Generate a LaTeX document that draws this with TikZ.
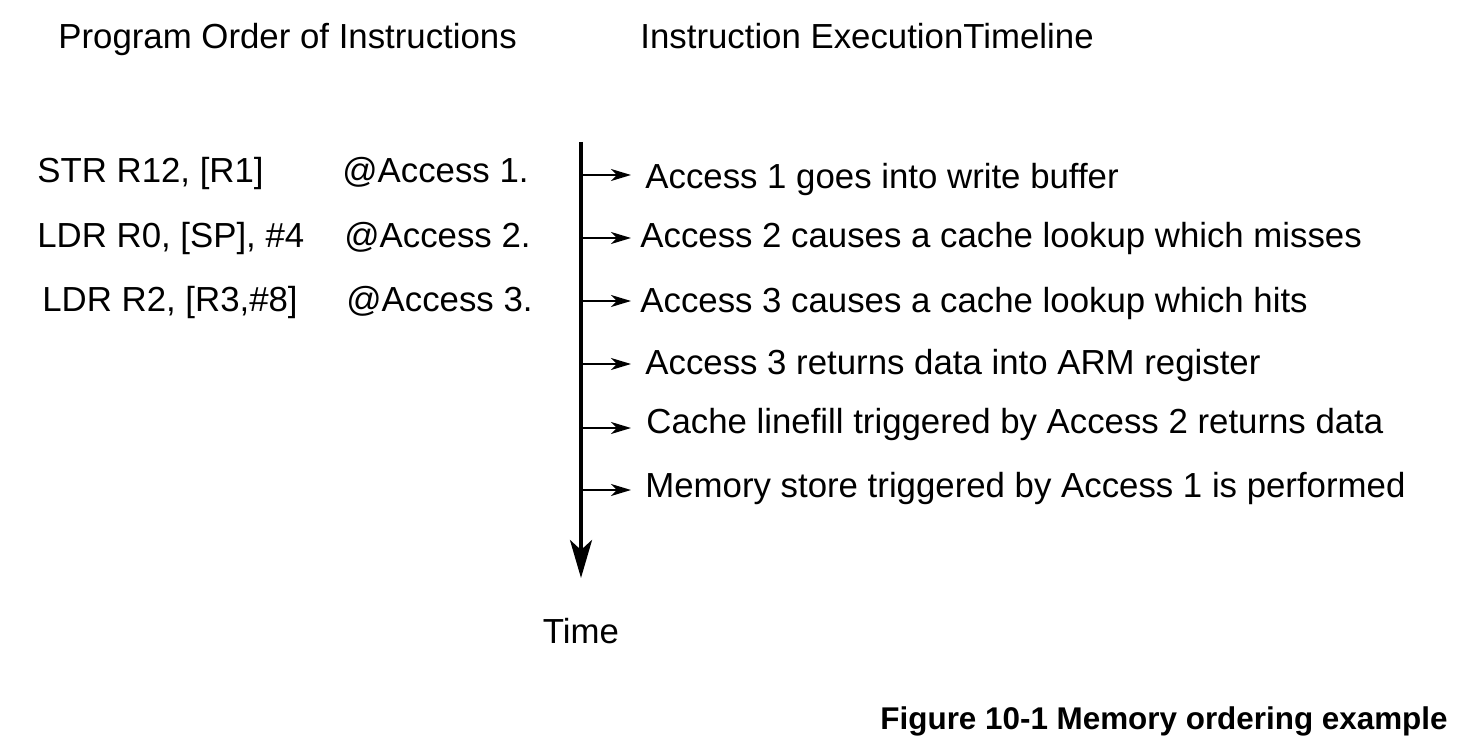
\documentclass[tikz,border=0pt]{standalone}
\usepackage{fontspec}
\setmainfont{Liberation Sans}
\usetikzlibrary{arrows.meta}
\tikzset{
  txt/.style={anchor=base west,inner sep=0pt,font=\fontsize{17.4}{20}\selectfont},
  tick/.style={line width=1pt,-{Stealth[length=10pt,width=6pt,inset=3pt]}},
  axis/.style={line width=2pt,-{Stealth[length=19pt,width=11pt,inset=5pt]}}
}
\begin{document}
\begin{tikzpicture}[x=0.5pt,y=-0.5pt]
\useasboundingbox (0,0) rectangle (1467,754);
% headings
\node[txt] (proghead) at (58,49) {Program Order of Instructions};
\node[txt] (timehead) at (640,49) {Instruction ExecutionTimeline};
% program order
\node[txt] (ins1) at (37,183) {STR R12, [R1]};
\node[txt] (com1) at (342,183) {@Access 1.};
\node[txt] (ins2) at (37,248) {LDR R0, [SP], \#4};
\node[txt] (com2) at (344,248) {@Access 2.};
\node[txt] (ins3) at (42,312) {LDR R2, [R3,\#8]};
\node[txt] (com3) at (346,312) {@Access 3.};
% timeline
\coordinate (T0) at (581,142);
\coordinate (T1) at (581,578);
\draw[axis] (T0) -- (T1);
\node[txt,anchor=base] (time) at (581,643) {Time};
\coordinate (e1) at (631,175);
\coordinate (e2) at (631,238);
\coordinate (e3) at (631,301);
\coordinate (e4) at (631,364);
\coordinate (e5) at (631,428);
\coordinate (e6) at (631,490);
\draw[tick] (e1 -| T0) -- (e1);
\draw[tick] (e2 -| T0) -- (e2);
\draw[tick] (e3 -| T0) -- (e3);
\draw[tick] (e4 -| T0) -- (e4);
\draw[tick] (e5 -| T0) -- (e5);
\draw[tick] (e6 -| T0) -- (e6);
\node[txt] (ev1) at (645,189) {Access 1 goes into write buffer};
\node[txt] (ev2) at (640,248) {Access 2 causes a cache lookup which misses};
\node[txt] (ev3) at (640,313) {Access 3 causes a cache lookup which hits};
\node[txt] (ev4) at (645,374) {Access 3 returns data into ARM register};
\node[txt] (ev5) at (646,433) {Cache linefill triggered by Access 2 returns data};
\node[txt] (ev6) at (645,497) {Memory store triggered by Access 1 is performed};
% caption
\node[anchor=base east,inner sep=0pt,font=\bfseries\fontsize{15.7}{18}\selectfont] (caption) at (1448,729) {Figure 10-1 Memory ordering example};
\end{tikzpicture}
\end{document}
